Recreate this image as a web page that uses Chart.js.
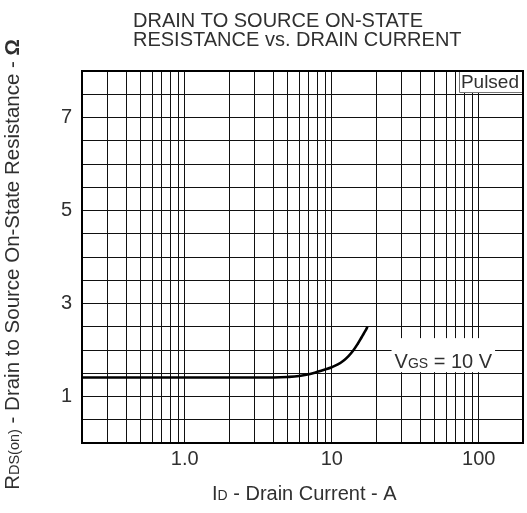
<!DOCTYPE html>
<html><head><meta charset="utf-8">
<script src="https://cdn.jsdelivr.net/npm/chart.js@4.4.1/dist/chart.umd.min.js"></script>
<style>html,body{margin:0;padding:0;background:#fff;}canvas{display:block;}</style>
</head><body>
<canvas id="c" width="527" height="513"></canvas>
<script>
// ---- data ----
const currentA = [0.2, 1, 2, 3, 4, 5, 6, 7, 8, 9, 10, 11, 12, 13, 14, 15, 16, 17, 17.5];
const rdsOn    = [1.41, 1.41, 1.41, 1.41, 1.41, 1.42, 1.44, 1.48, 1.53, 1.58, 1.63, 1.69, 1.77, 1.87, 1.99, 2.13, 2.28, 2.42, 2.5];
const xGridValues = [0.2,0.3,0.4,0.5,0.6,0.7,0.8,0.9,1,2,3,4,5,6,7,8,9,10,20,30,40,50,60,70,80,90,100,200];
const xLabelValues = [1, 10, 100];
const xLabelTexts  = ['1.0', '10', '100'];
const yLabelValues = [1, 3, 5, 7];
const titleLines = ['DRAIN TO SOURCE ON-STATE', 'RESISTANCE vs. DRAIN CURRENT'];
const vgsText = [{t:'V'},{t:'GS',sub:true},{t:' = 10 V'}];
const vgsAnchor = {x: 57.4, y: 1.89};
const pulsedText = 'Pulsed';

const FONT = "'Liberation Sans', Arial, Helvetica, sans-serif";
const TEXT = '#303030';
Chart.defaults.font.family = FONT;

function fnt(size, bold){ return (bold?'bold ':'') + size + 'px ' + FONT; }
function richWidth(ctx, segs, size, subSize){
  let w = 0;
  segs.forEach(s => { ctx.font = fnt(s.sub?subSize:size, s.bold); w += ctx.measureText(s.t).width; });
  return w;
}
function drawRich(ctx, segs, x, y, size, subSize){
  ctx.textAlign = 'left'; ctx.textBaseline = 'alphabetic';
  segs.forEach(s => { ctx.font = fnt(s.sub?subSize:size, s.bold); ctx.fillText(s.t, x, y); x += ctx.measureText(s.t).width; });
}

const decor = {
  id: 'decor',
  afterDatasetsDraw(chart){
    const ctx = chart.ctx, a = chart.chartArea;
    const xs = chart.scales.x, ys = chart.scales.y;
    ctx.save();
    // VGS label with white box
    const w = richWidth(ctx, vgsText, 20, 14);
    const cx = xs.getPixelForValue(vgsAnchor.x), cy = ys.getPixelForValue(vgsAnchor.y);
    ctx.fillStyle = '#fff';
    ctx.fillRect(cx - w/2 - 3, cy - 17, w + 6, 34);
    ctx.fillStyle = TEXT;
    drawRich(ctx, vgsText, cx - w/2, cy + 13, 20, 14);
    // Pulsed box
    ctx.font = fnt(19);
    const pw = ctx.measureText(pulsedText).width;
    const bx = a.right - pw - 6;
    ctx.fillStyle = '#fff';
    ctx.fillRect(bx, a.top, a.right - bx, 21);
    ctx.strokeStyle = '#777'; ctx.lineWidth = 1;
    ctx.beginPath(); ctx.moveTo(Math.round(bx)+0.5, a.top); ctx.lineTo(Math.round(bx)+0.5, a.top+21.5); ctx.lineTo(a.right, a.top+21.5); ctx.stroke();
    ctx.fillStyle = TEXT; ctx.textAlign = 'right'; ctx.textBaseline = 'alphabetic';
    ctx.fillText(pulsedText, a.right - 4, a.top + 17);
    // frame
    ctx.strokeStyle = '#000'; ctx.lineWidth = 2;
    ctx.strokeRect(a.left, a.top, a.right - a.left, a.bottom - a.top);
    ctx.restore();
  },
  afterDraw(chart){
    const ctx = chart.ctx;
    ctx.save();
    ctx.fillStyle = TEXT;
    ctx.font = fnt(20); ctx.textAlign = 'left'; ctx.textBaseline = 'alphabetic';
    ctx.fillText(titleLines[0], 133, 27);
    ctx.fillText(titleLines[1], 133, 46);
    // x title
    drawRich(ctx, [{t:'I'},{t:'D',sub:true},{t:' - Drain Current - A'}], 212, 500, 20, 14);
    // y title (rotated)
    const ySegs = [{t:'R'},{t:'DS(on)',sub:true},{t:' - Drain to Source On-State Resistance - '},{t:'Ω',bold:true}];
    const yw = richWidth(ctx, ySegs, 20.5, 14.5);
    ctx.translate(19, 39 + yw);
    ctx.rotate(-Math.PI/2);
    drawRich(ctx, ySegs, 0, 0, 20.5, 14.5);
    ctx.restore();
  }
};

new Chart(document.getElementById('c'), {
  type: 'line',
  data: { datasets: [{
    data: currentA.map((x, i) => ({x: x, y: rdsOn[i]})),
    borderColor: '#000', borderWidth: 2.6, pointRadius: 0,
    tension: 0.4, fill: false
  }]},
  options: {
    responsive: false, animation: false, devicePixelRatio: 1,
    layout: {padding: {top: 71, right: 1, left: 0, bottom: 0}},
    plugins: {legend: {display: false}, tooltip: {enabled: false}, title: {display: false}},
    scales: {
      x: {
        type: 'logarithmic', min: 0.2, max: 200,
        afterBuildTicks: s => { s.ticks = xGridValues.map(v => ({value: v})); },
        afterFit: s => { s.height = 70; },
        grid: {color: '#111', lineWidth: 1, drawTicks: false},
        border: {display: false},
        ticks: {autoSkip: false, maxRotation: 0, minRotation: 0, padding: 4, color: TEXT, font: {size: 20},
          callback: v => { const i = xLabelValues.indexOf(v); return i >= 0 ? xLabelTexts[i] : ''; }}
      },
      y: {
        type: 'linear', min: 0, max: 8,
        afterFit: s => { s.width = 82; },
        grid: {color: '#111', lineWidth: 1, drawTicks: false},
        border: {display: false},
        ticks: {stepSize: 0.5, autoSkip: false, padding: 10, color: TEXT, font: {size: 20},
          callback: v => yLabelValues.indexOf(v) >= 0 ? String(v) : ''}
      }
    }
  },
  plugins: [decor]
});
</script>
</body></html>
